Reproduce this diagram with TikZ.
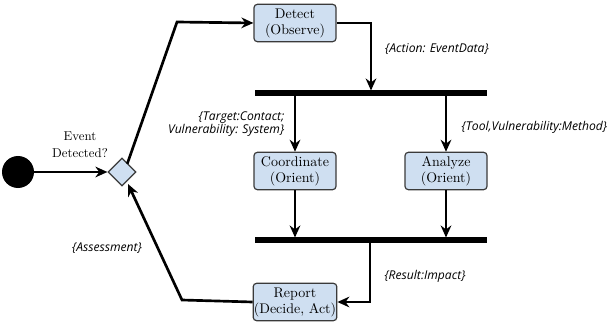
\documentclass[tikz,border=0pt]{standalone}
\usepackage{fontspec}
\newfontfamily\labelfont{Open Sans}
\usetikzlibrary{arrows.meta,shapes.geometric}
\definecolor{boxfill}{HTML}{CFDFF1}
\definecolor{boxline}{HTML}{3A3A3A}
\tikzset{
  activity/.style={draw=boxline, fill=boxfill, line width=0.9pt, rounded corners=2.5pt,
    minimum width=61.5pt, minimum height=28pt, align=center, inner sep=0.5pt,
    font=\fontsize{10.5}{12}\selectfont},
  flow/.style={line width=2pt, -{Stealth[length=9pt,width=8pt]}},
  syncbar/.style={line width=4.5pt},
  guard/.style={font=\labelfont\itshape\fontsize{9.1}{10}\selectfont, align=center},
}
\begin{document}
\begin{tikzpicture}[x=0.75pt,y=-0.75pt]
\useasboundingbox (0,0) rectangle (610,324);
% initial state and decision
\node[circle, fill=black, minimum size=24pt, inner sep=0pt] (start) at (18,172) {};
\node[diamond, draw=boxline, fill=boxfill, line width=0.9pt, minimum size=21pt, inner sep=0pt] (dec) at (122,172) {};
\node[align=center, font=\fontsize{9.6}{12.5}\selectfont] (q) at (80,145) {Event\\Detected?};
% activities
\node[activity] (detect) at (295,23) {Detect\\(Observe)};
\node[activity] (coord) at (295,171) {Coordinate\\(Orient)};
\node[activity] (analyze) at (446,171) {Analyze\\(Orient)};
\node[activity] (report) at (295,302) {Report\\(Decide, Act)};
% fork and join bars
\coordinate (forkL) at (255,93);
\coordinate (forkR) at (487,93);
\coordinate (joinL) at (255,240);
\coordinate (joinR) at (487,240);
\draw[syncbar] (forkL) -- (forkR);
\draw[syncbar] (joinL) -- (joinR);
\coordinate (forkIn) at (371,90.5);
\coordinate (forkA) at (295,95.5);
\coordinate (forkB) at (446,95.5);
\coordinate (joinA) at (295,237.5);
\coordinate (joinB) at (446,237.5);
\coordinate (joinOut) at (370,242.5);
% connectors
\draw[flow] (start) -- (dec);
\draw[flow] (dec.north east) ++(-2,-1) coordinate (d1) -- (177,22) -- (detect.west);
\draw[flow] (detect.east) -| (forkIn);
\draw[flow] (forkA) -- (coord.north);
\draw[flow] (forkB) -- (analyze.north);
\draw[flow] (coord.south) -- (joinA);
\draw[flow] (analyze.south) -- (joinB);
\draw[flow] (joinOut) |- (report.east);
\draw[flow] (report.west) -- (182,300) -- (128,184);
% guard labels
\node[guard] (g1) at (437,49) {\{Action: EventData\}};
\node[guard, align=right, anchor=east] (g2) at (289,124) {\{Target:Contact;\\Vulnerability: System\}};
\node[guard, anchor=west] (g3) at (457,127) {\{Tool,Vulnerability:Method\}};
\node[guard] (g4) at (425,276) {\{Result:Impact\}};
\node[guard] (g5) at (107,248) {\{Assessment\}};
\end{tikzpicture}
\end{document}
